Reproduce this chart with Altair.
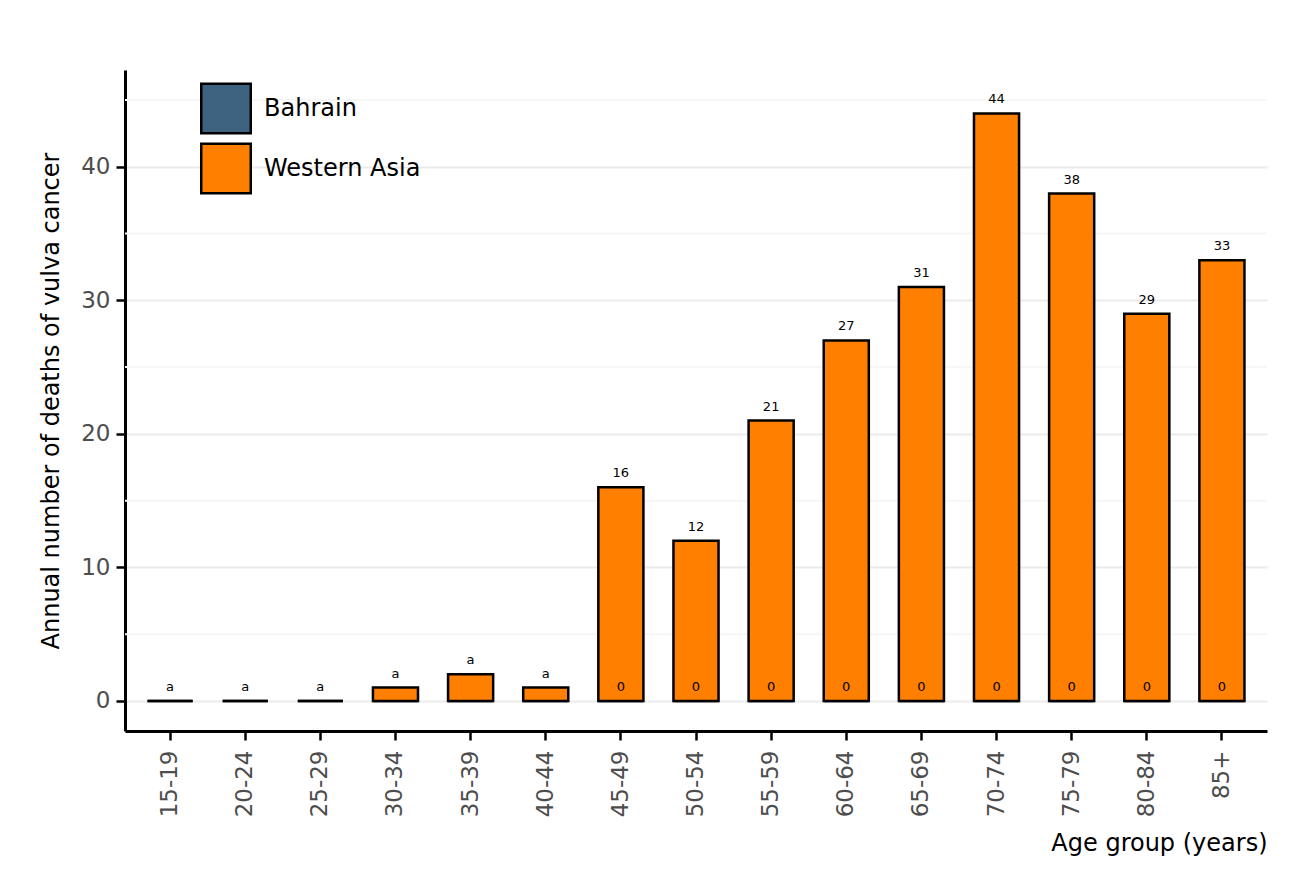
import altair as alt
import pandas as pd

ages = ["15-19", "20-24", "25-29", "30-34", "35-39", "40-44", "45-49", "50-54",
        "55-59", "60-64", "65-69", "70-74", "75-79", "80-84", "85+"]
western_asia = [0, 0, 0, 1, 2, 1, 16, 12, 21, 27, 31, 44, 38, 29, 33]
western_asia_labels = ["a", "a", "a", "a", "a", "a", "16", "12", "21", "27", "31", "44", "38", "29", "33"]
bahrain = [0, 0, 0, 0, 0, 0, 0, 0, 0, 0, 0, 0, 0, 0, 0]
bahrain_labels = ["", "", "", "", "", "", "0", "0", "0", "0", "0", "0", "0", "0", "0"]
series = ["Bahrain", "Western Asia"]
colors = ["#3E6381", "#FF7F00"]
major_ticks = [0, 10, 20, 30, 40]
minor_ticks = [5, 15, 25, 35, 45]

rows = []
for a, v, l in zip(ages, bahrain, bahrain_labels):
    rows.append({"age": a, "series": "Bahrain", "value": v, "label": l, "order": 0})
for a, v, l in zip(ages, western_asia, western_asia_labels):
    rows.append({"age": a, "series": "Western Asia", "value": v, "label": l, "order": 1})
df = pd.DataFrame(rows)
minor_df = pd.DataFrame({"v": minor_ticks})

FONT = "DejaVu Sans"
yscale = alt.Scale(domain=[-2.25, 47.25], nice=False, zero=False)
xscale = alt.Scale(paddingInner=0.4, paddingOuter=0.3)

minor = alt.Chart(minor_df).mark_rule(color="#F6F6F6", strokeWidth=2).encode(
    y=alt.Y("v:Q", scale=yscale)
)

bars = alt.Chart(df).mark_bar(stroke="black", strokeWidth=2.5, opacity=1).encode(
    x=alt.X("age:N", sort=ages, scale=xscale,
            axis=alt.Axis(title="Age group (years)", titleAnchor="end", labelAngle=270)),
    y=alt.Y("value:Q", scale=yscale,
            axis=alt.Axis(title="Annual number of deaths of vulva cancer", values=major_ticks)),
    y2=alt.datum(0),
    color=alt.Color("series:N", scale=alt.Scale(domain=series, range=colors),
                    legend=alt.Legend(orient="none", legendX=75, legendY=12.5, title=None,
                                      symbolType="square", symbolSize=2450,
                                      symbolStrokeColor="black", symbolStrokeWidth=2.5,
                                      symbolOpacity=1, labelFontSize=24, labelFont=FONT,
                                      labelColor="black", labelOffset=12, rowPadding=0,
                                      padding=0)),
    order=alt.Order("order:Q"),
)

labels = alt.Chart(df).mark_text(dy=-10, fontSize=13, font=FONT, color="black",
                                 baseline="alphabetic").encode(
    x=alt.X("age:N", sort=ages, scale=xscale),
    y=alt.Y("value:Q", scale=yscale),
    text="label:N",
)

chart = alt.layer(minor, bars, labels).properties(
    width=1142, height=661,
    padding={"left": 31, "top": 62, "right": 5, "bottom": 5},
).configure_view(stroke=None).configure_axis(
    labelFont=FONT, titleFont=FONT, labelFontSize=23, labelColor="#4D4D4D",
    titleFontSize=24, titleFontWeight="normal", titleColor="black",
    domainColor="black", domainWidth=3, tickColor="black", tickWidth=2.5, tickSize=9,
).configure_axisX(
    grid=False, labelPadding=10, titlePadding=15,
).configure_axisY(
    grid=True, gridColor="#EBEBEB", gridWidth=2, labelPadding=6, titlePadding=17,
)

chart.save("out.html", embed_options={"renderer": "svg", "actions": False})
